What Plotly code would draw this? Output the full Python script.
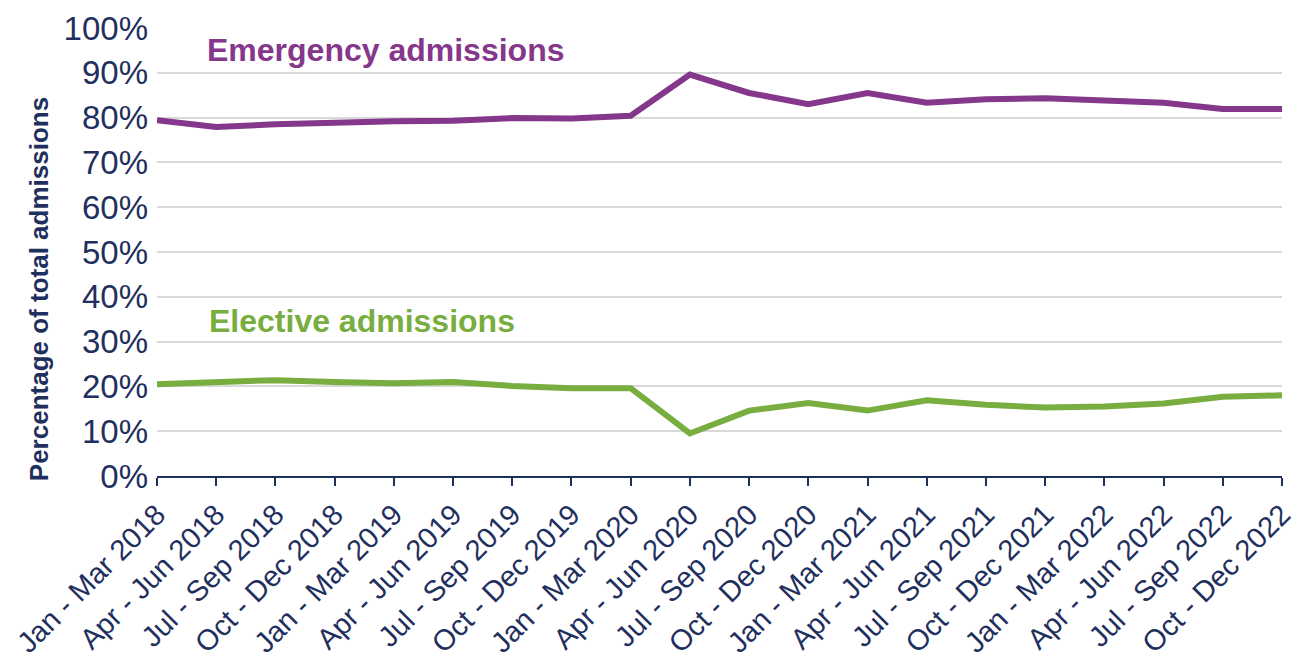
import plotly.graph_objects as go

quarters = [
    "Jan - Mar 2018", "Apr - Jun 2018", "Jul - Sep 2018", "Oct - Dec 2018",
    "Jan - Mar 2019", "Apr - Jun 2019", "Jul - Sep 2019", "Oct - Dec 2019",
    "Jan - Mar 2020", "Apr - Jun 2020", "Jul - Sep 2020", "Oct - Dec 2020",
    "Jan - Mar 2021", "Apr - Jun 2021", "Jul - Sep 2021", "Oct - Dec 2021",
    "Jan - Mar 2022", "Apr - Jun 2022", "Jul - Sep 2022", "Oct - Dec 2022",
]
emergency = [79.4, 77.9, 78.5, 78.9, 79.2, 79.3, 79.9, 79.8, 80.4, 89.6,
             85.5, 83.0, 85.5, 83.3, 84.1, 84.3, 83.9, 83.3, 81.9, 81.9]
elective = [20.5, 21.0, 21.4, 21.0, 20.7, 21.0, 20.1, 19.6, 19.6, 9.5,
            14.6, 16.3, 14.6, 16.9, 15.9, 15.3, 15.5, 16.2, 17.7, 18.0]

navy = "#1f2f5e"
purple = "#84378b"
green = "#78ad3f"
font_family = "Liberation Sans, Arial, sans-serif"

fig = go.Figure()
fig.add_trace(go.Scatter(x=quarters, y=emergency, mode="lines",
                         line=dict(color=purple, width=6), showlegend=False))
fig.add_trace(go.Scatter(x=quarters, y=elective, mode="lines",
                         line=dict(color=green, width=6), showlegend=False))

# page body has an 8px margin, so the figure is sized / offset to fit the window
fig.update_layout(
    width=1299, height=654,
    margin=dict(l=149, r=25, t=20, b=186),
    plot_bgcolor="white", paper_bgcolor="white",
    font=dict(family=font_family, color=navy),
)

fig.update_xaxes(
    type="category", range=[0, len(quarters) - 1], automargin=False,
    tickangle=-45, tickfont=dict(size=29, color=navy),
    showgrid=False, showline=True, linecolor=navy, linewidth=2,
    ticks="outside", ticklen=8, tickcolor=navy, tickwidth=2,
)
fig.update_yaxes(
    range=[0, 100], dtick=10, ticksuffix="%", automargin=False,
    tickfont=dict(size=33, color=navy), ticklabelstandoff=8,
    showgrid=True, gridcolor="#d9d9d9", gridwidth=2,
    zeroline=False, showline=False, ticks="",
)

fig.add_annotation(text="<b>Percentage of total admissions</b>", textangle=-90,
                   xref="paper", yref="paper", x=-0.12, y=0.417,
                   showarrow=False, font=dict(size=26, color=navy))
fig.add_annotation(text="<b>Emergency admissions</b>",
                   xref="paper", yref="paper", x=0.0427, y=0.951,
                   xanchor="left", yanchor="middle", showarrow=False,
                   font=dict(size=32, color=purple))
fig.add_annotation(text="<b>Elective admissions</b>",
                   xref="paper", yref="paper", x=0.0445, y=0.346,
                   xanchor="left", yanchor="middle", showarrow=False,
                   font=dict(size=32, color=green))

fig.write_html("out.html")
